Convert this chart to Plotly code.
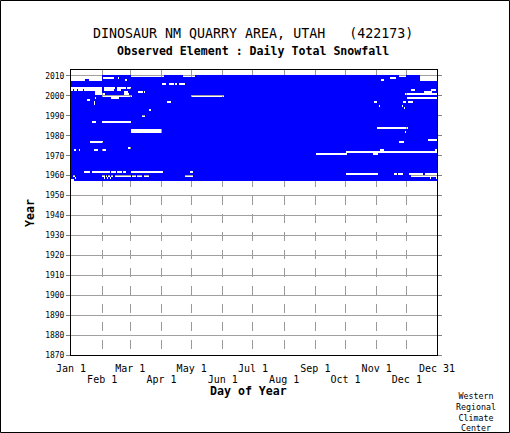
import numpy as np
import plotly.graph_objects as go

# ---- data ----
years = list(range(1958, 2011))
days = list(range(1, 366))

# missing-data intervals (year, first day-of-year, last day-of-year)
gap_year = [2010, 2010, 2010, 2010, 2010,
            2009, 2009, 2009, 2009, 2009,
            2008, 2008, 2008, 2008, 2008,
            2006, 2006, 2006, 2006,
            2004, 2004, 2004, 2004,
            2003, 2003, 2003, 2003, 2003, 2003, 2003, 2003,
            2002, 2002, 2002, 2002, 2002,
            2001, 2001, 2001,
            2000, 2000,
            1999, 1999, 1999,
            1998,
            1997, 1997, 1997, 1997, 1997,
            1996, 1995, 1995, 1994, 1993, 1990,
            1987, 1987, 1984, 1983, 1982, 1982,
            1978, 1977, 1977, 1974,
            1973, 1973, 1973, 1973, 1973, 1973,
            1972, 1971, 1971,
            1962, 1962, 1962, 1962, 1962, 1962, 1962,
            1961, 1961, 1961, 1961, 1961,
            1960, 1960, 1960, 1960, 1960, 1960, 1960, 1960, 1960, 1960, 1960,
            1959, 1959, 1959, 1959, 1959, 1959,
            1958]
gap_first = [1, 61, 113, 328, 349,
             1, 33, 48, 319, 349,
             1, 19, 55, 310, 349,
             92, 99, 105, 109,
             1, 34, 47, 57,
             1, 4, 8, 14, 34, 47, 340, 360,
             25, 54, 68, 74, 353,
             25, 54, 334,
             32, 121,
             25, 41, 336,
             17,
             24, 97, 303, 332, 337,
             24, 308, 331, 333, 79, 72,
             22, 32, 306, 61, 61, 334,
             357, 20, 328, 58,
             4, 9, 24, 32, 309, 364,
             275, 245, 302,
             14, 22, 41, 47, 53, 61, 120,
             275, 323, 327, 338, 354,
             3, 32, 36, 38, 41, 45, 62, 67, 74, 115, 340,
             5, 34, 37, 40, 359, 365,
             1]
gap_last = [31, 93, 124, 334, 365,
            31, 43, 48, 324, 365,
            14, 31, 56, 312, 365,
            95, 103, 106, 114,
            31, 44, 55, 60,
            2, 6, 12, 31, 43, 50, 343, 364,
            31, 57, 72, 74, 360,
            34, 58, 365,
            61, 153,
            25, 48, 365,
            19,
            24, 100, 305, 334, 341,
            24, 308, 331, 333, 80, 74,
            25, 60, 336, 91, 91, 334,
            365, 32, 332, 60,
            5, 9, 27, 35, 312, 365,
            365, 275, 306,
            19, 39, 45, 51, 55, 92, 122,
            306, 325, 331, 351, 365,
            4, 34, 36, 39, 42, 60, 65, 71, 78, 122, 365,
            5, 34, 37, 40, 359, 365,
            3]

month_days = [1, 32, 60, 91, 121, 152, 182, 213, 244, 274, 305, 335, 365]
month_labels = ["Jan 1", "Feb 1", "Mar 1", "Apr 1", "May 1", "Jun 1", "Jul 1",
                "Aug 1", "Sep 1", "Oct 1", "Nov 1", "Dec 1", "Dec 31"]

# ---- build presence matrix ----
z = np.ones((len(years), len(days)))
for yr, a, b in zip(gap_year, gap_first, gap_last):
    z[years.index(yr), a - 1:b] = np.nan

upper_text = [t if i % 2 == 0 else "" for i, t in enumerate(month_labels)]
lower_text = [t if i % 2 == 1 else "" for i, t in enumerate(month_labels)]

MONO = "DejaVu Sans Mono"
L, R, T, B = 71, 73, 70, 78
W, H = 510, 433
pw, ph = W - L - R, H - T - B


def px(xp):
    return (xp - L) / pw


def py(yp):
    return (H - B - yp) / ph


def label(text, x, y, size, angle=0):
    return dict(text=text, x=px(x), y=py(y), xref="paper", yref="paper",
                xanchor="center", yanchor="middle", showarrow=False,
                align="center", textangle=angle,
                font=dict(family=MONO, size=size, color="black"))


fig = go.Figure()
fig.add_trace(go.Heatmap(
    x=days, y=years, z=z,
    colorscale=[[0, "#0000ff"], [1, "#0000ff"]],
    showscale=False, hoverongaps=False, zmin=0, zmax=1,
))
# empty helper trace so the second (lower-label) x axis gets drawn
fig.add_trace(go.Scatter(x=[], y=[], xaxis="x2", yaxis="y",
                         showlegend=False, hoverinfo="skip"))

fig.update_layout(
    width=W, height=H,
    margin=dict(l=L, r=R, t=T, b=B, pad=0),
    paper_bgcolor="white", plot_bgcolor="white",
    showlegend=False,
    font=dict(family=MONO, color="black"),
    xaxis=dict(
        range=[1, 365], tickmode="array", tickvals=month_days, ticktext=upper_text,
        tickangle=0, ticklabelstandoff=4,
        showgrid=True, gridcolor="#999999", griddash="dash", gridwidth=1,
        showline=True, linecolor="black", linewidth=1, mirror=True,
        ticks="", tickfont=dict(family=MONO, size=10, color="black"),
        zeroline=False, fixedrange=True,
    ),
    xaxis2=dict(
        overlaying="x", side="bottom", anchor="y",
        range=[1, 365], tickmode="array", tickvals=month_days, ticktext=lower_text,
        tickangle=0, ticklabelstandoff=17,
        showgrid=False, showline=False, ticks="",
        tickfont=dict(family=MONO, size=10, color="black"),
        zeroline=False, fixedrange=True,
    ),
    yaxis=dict(
        range=[1870, 2013], tick0=1870, dtick=10,
        showgrid=True, gridcolor="#a0a0a0", gridwidth=1,
        showline=True, linecolor="black", linewidth=1, mirror="ticks",
        ticks="outside", ticklen=4, tickcolor="#808080",
        tickfont=dict(family=MONO, size=8, color="black"),
        zeroline=False, fixedrange=True,
    ),
    annotations=[
        label("DINOSAUR NM QUARRY AREA, UTAH   (422173)", 252.5, 33, 13.3),
        label("<b>Observed Element : Daily Total Snowfall</b>", 253, 51, 11.6),
        label("<b>Day of Year</b>", 248, 391, 11.6),
        label("<b>Year</b>", 30, 213, 11.6, angle=-90),
        label("Western<br>Regional<br>Climate<br>Center", 476, 412, 8.3),
    ],
    shapes=[
        dict(type="rect", xref="paper", yref="paper",
             x0=px(0.5), x1=px(509.5), y0=py(432.5), y1=py(0.5),
             line=dict(color="black", width=1), fillcolor="rgba(0,0,0,0)", layer="below"),
    ],
)

fig.write_html(
    "out.html",
    config={"displayModeBar": False},
    post_script="document.body.style.margin='0';document.body.style.padding='0';",
)
